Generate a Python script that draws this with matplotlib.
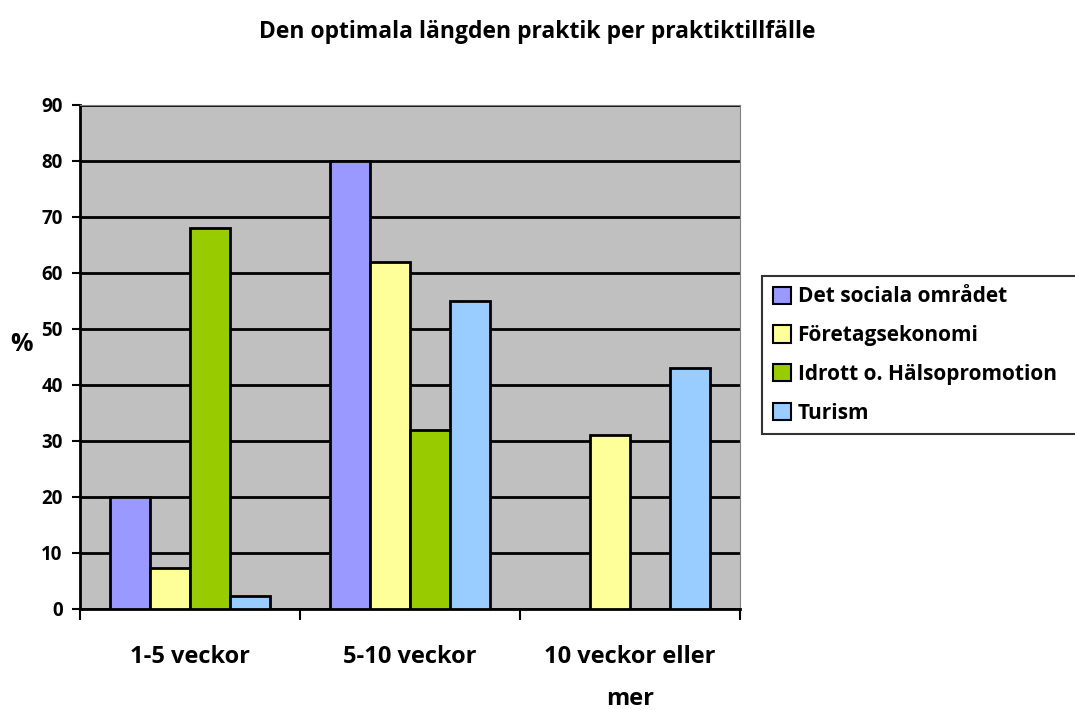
import matplotlib.pyplot as plt
import numpy as np

plt.rcParams['font.family'] = ['Open Sans', 'DejaVu Sans']

categories = ['1-5 veckor', '5-10 veckor', '10 veckor eller\nmer']
series_names = ['Det sociala området', 'Företagsekonomi', 'Idrott o. Hälsopromotion', 'Turism']
values = [
    [20, 80, 0],
    [7.3, 62, 31],
    [68, 32, 0],
    [2.3, 55, 43],
]
colors = ['#9999ff', '#ffff99', '#99cc00', '#99ccff']

fig = plt.figure(figsize=(10.75, 7.1), dpi=100)
ax = fig.add_axes([0.0744, 0.1423, 0.6140, 0.7099])
ax.set_facecolor('#c0c0c0')

x = np.arange(len(categories))
width = 40 / 220
for i, (name, vals, col) in enumerate(zip(series_names, values, colors)):
    pos = x - 2 * width + (i + 0.5) * width
    v = np.array(vals, dtype=float)
    mask = v > 0
    ax.bar(pos[mask], v[mask], width, color=col, edgecolor='black', linewidth=2, label=name, zorder=3)

ax.set_xlim(-0.5, 2.5)
ax.set_ylim(0, 90)
ax.set_yticks(np.arange(0, 91, 10))
ax.yaxis.grid(True, color='black', linewidth=2, zorder=1)
ax.set_axisbelow(True)

ax.set_xticks(x)
ax.set_xticklabels(categories, fontsize=17, fontweight='bold', linespacing=2.0)
ax.tick_params(axis='x', length=0, pad=26)
ax.set_xticks([-0.5, 0.5, 1.5, 2.5], minor=True)
ax.tick_params(axis='x', which='minor', length=8, width=1.5, direction='out')
ax.tick_params(axis='y', length=5.5, width=1.5, labelsize=13.5, pad=7)
for lab in ax.get_yticklabels():
    lab.set_fontweight('bold')

ax.spines['left'].set_linewidth(2)
ax.spines['bottom'].set_linewidth(2)
ax.spines['top'].set_color('#808080')
ax.spines['right'].set_color('#808080')

ax.set_ylabel('%', fontsize=18, fontweight='bold', rotation=0, labelpad=14)

fig.suptitle('Den optimala längden praktik per praktiktillfälle', x=0.5, y=0.972,
             fontsize=16.5, fontweight='bold')

leg = ax.legend(loc='center left', bbox_to_anchor=(0.709, 0.3, 0.3, 0.4),
                bbox_transform=fig.transFigure, mode='expand',
                frameon=True, fancybox=False,
                edgecolor='black', prop={'size': 15, 'weight': 'bold'},
                handlelength=0.9, handleheight=0.9, handletextpad=0.3, labelspacing=0.85,
                borderpad=0.5, borderaxespad=0)
leg.get_frame().set_linewidth(1.5)
for h in leg.legend_handles:
    h.set_linewidth(1.5)

fig.savefig('out.png', dpi=100)
